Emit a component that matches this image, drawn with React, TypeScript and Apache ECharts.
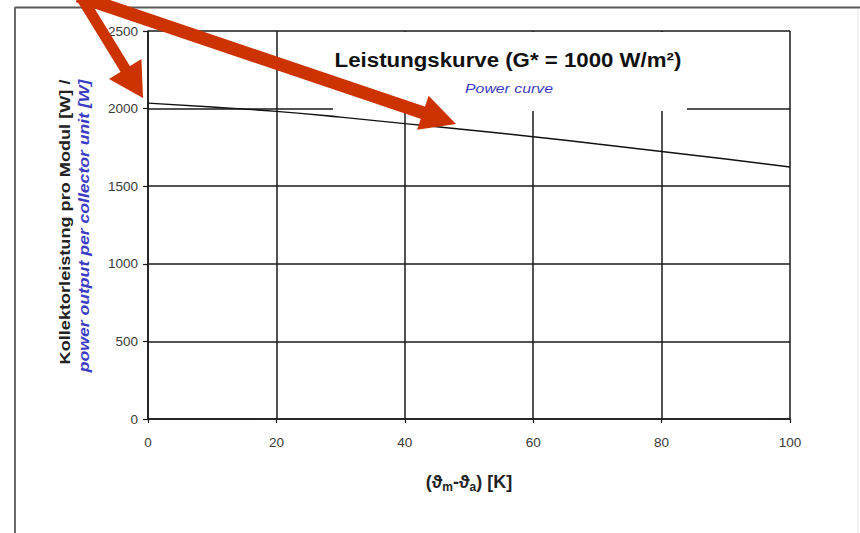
import React, { useEffect, useRef } from "react";
import * as echarts from "echarts";

// ---- data ----
const xValues = [0, 10, 20, 30, 40, 50, 60, 70, 80, 90, 100];
const powerValues = [2035, 2010, 1982, 1945, 1903, 1862, 1819, 1772, 1724, 1675, 1624];
const xTickLabels = ["0", "20", "40", "60", "80", "100"];
const yTickLabels = ["0", "500", "1000", "1500", "2000", "2500"];
const titleText = "Leistungskurve (G* = 1000 W/m²)";
const subtitleText = "Power curve";
const yNameDe = "Kollektorleistung pro Modul [W] /";
const yNameEn = "power output per collector unit [W]";

const FONT = '"Liberation Sans", Arial, sans-serif';
const RED = "#cc3300";

function measure(text: string, font: string): number {
  const c = document.createElement("canvas").getContext("2d");
  if (!c) return 100;
  c.font = font;
  return c.measureText(text).width || 100;
}

function arrow(sx: number, sy: number, tx: number, ty: number, shaft: number, headLen: number, headW: number) {
  const dx = tx - sx;
  const dy = ty - sy;
  const len = Math.sqrt(dx * dx + dy * dy);
  const ux = dx / len;
  const uy = dy / len;
  const px = -uy;
  const py = ux;
  const bx = tx - ux * headLen;
  const by = ty - uy * headLen;
  return [
    {
      type: "line",
      z: 100,
      shape: { x1: sx, y1: sy, x2: bx + ux * 2, y2: by + uy * 2 },
      style: { stroke: RED, lineWidth: shaft, lineCap: "butt" },
    },
    {
      type: "polygon",
      z: 100,
      shape: {
        points: [
          [tx, ty],
          [bx + (px * headW) / 2, by + (py * headW) / 2],
          [bx - (px * headW) / 2, by - (py * headW) / 2],
        ],
      },
      style: { fill: RED },
    },
  ];
}

export default function App() {
  const ref = useRef<HTMLDivElement>(null);

  useEffect(() => {
    if (!ref.current) return;
    const chart = echarts.init(ref.current, undefined, { renderer: "svg" });

    const titleFont = `bold 21px ${FONT}`;
    const subFont = `italic 13px ${FONT}`;
    const deFont = `bold 14px ${FONT}`;
    const enFont = `italic bold 14px ${FONT}`;

    const titleScale = 347 / measure(titleText, titleFont);
    const subScale = 88 / measure(subtitleText, subFont);
    const deScale = 285 / measure(yNameDe, deFont);
    const enScale = 293 / measure(yNameEn, enFont);

    const option: any = {
      animation: false,
      backgroundColor: "#ffffff",
      grid: { left: 148, top: 31, right: 70, bottom: 114, containLabel: false },
      xAxis: {
        type: "value",
        min: 0,
        max: 100,
        interval: 20,
        name: "{b|(ϑ}{s|m}{b|-ϑ}{s|a}{b|) [K]}",
        nameLocation: "middle",
        nameGap: 51,
        nameTextStyle: {
          rich: {
            b: { fontSize: 18, fontWeight: "bold", fontFamily: FONT, color: "#222", lineHeight: 23 },
            s: { fontSize: 12, fontWeight: "bold", fontFamily: FONT, color: "#222", lineHeight: 23, verticalAlign: "bottom" },
          },
        },
        axisLine: { show: true, onZero: false, lineStyle: { color: "#1a1a1a", width: 1.5 } },
        axisTick: { show: true, length: 4, lineStyle: { color: "#1a1a1a", width: 1.2 } },
        axisLabel: {
          margin: 16,
          fontSize: 13.5,
          fontFamily: FONT,
          color: "#3a3a3a",
          formatter: (v: number) => xTickLabels[Math.round(v / 20)] ?? String(v),
        },
        splitLine: { show: true, lineStyle: { color: "#1a1a1a", width: 1.5 } },
      },
      yAxis: {
        type: "value",
        min: 0,
        max: 2500,
        interval: 500,
        axisLine: { show: true, lineStyle: { color: "#1a1a1a", width: 1.5 } },
        axisTick: { show: true, length: 5, lineStyle: { color: "#1a1a1a", width: 1.2 } },
        axisLabel: {
          margin: 10,
          fontSize: 13.5,
          fontFamily: FONT,
          color: "#3a3a3a",
          formatter: (v: number) => yTickLabels[Math.round(v / 500)] ?? String(v),
        },
        splitLine: { show: true, lineStyle: { color: "#1a1a1a", width: 1.5 } },
      },
      series: [
        {
          type: "line",
          data: xValues.map((x, i) => [x, powerValues[i]]),
          smooth: true,
          showSymbol: false,
          symbol: "none",
          z: 10,
          lineStyle: { color: "#111", width: 1.4 },
        },
      ],
      graphic: [
        // outer frame of the scanned page
        { type: "line", z: 50, shape: { x1: 15, y1: 7.5, x2: 860, y2: 7.5 }, style: { stroke: "#5a5a5a", lineWidth: 2 } },
        { type: "line", z: 50, shape: { x1: 15, y1: 7, x2: 15, y2: 533 }, style: { stroke: "#6a6a6a", lineWidth: 2 } },
        { type: "line", z: 50, shape: { x1: 858, y1: 9, x2: 858, y2: 533 }, style: { stroke: "#e6e6e6", lineWidth: 1 } },
        // white title box covering the grid
        { type: "rect", z: 5, shape: { x: 333, y: 32, width: 354, height: 79 }, style: { fill: "#ffffff" } },
        {
          type: "text",
          z: 20,
          x: 508,
          y: 60,
          scaleX: titleScale,
          style: {
            text: titleText,
            font: titleFont,
            fill: "#111",
            align: "center",
            verticalAlign: "middle",
            textAlign: "center",
            textVerticalAlign: "middle",
          },
        },
        {
          type: "text",
          z: 20,
          x: 509,
          y: 89,
          scaleX: subScale,
          style: {
            text: subtitleText,
            font: subFont,
            fill: "#3b3bc4",
            align: "center",
            verticalAlign: "middle",
            textAlign: "center",
            textVerticalAlign: "middle",
          },
        },
        {
          type: "text",
          z: 20,
          x: 65,
          y: 222,
          rotation: Math.PI / 2,
          scaleX: deScale,
          style: {
            text: yNameDe,
            font: deFont,
            fill: "#222",
            align: "center",
            verticalAlign: "middle",
            textAlign: "center",
            textVerticalAlign: "middle",
          },
        },
        {
          type: "text",
          z: 20,
          x: 84,
          y: 226,
          rotation: Math.PI / 2,
          scaleX: enScale,
          style: {
            text: yNameEn,
            font: enFont,
            fill: "#3b3bc4",
            align: "center",
            verticalAlign: "middle",
            textAlign: "center",
            textVerticalAlign: "middle",
          },
        },
        ...arrow(78, -8, 143, 98, 11, 34, 38),
        ...arrow(78, -4, 456, 124, 13, 35, 36),
      ],
    };

    chart.setOption(option);
    return () => chart.dispose();
  }, []);

  return (
    <div
      ref={ref}
      style={{ position: "fixed", left: 0, top: 0, width: 860, height: 533, background: "#fff" }}
    />
  );
}
